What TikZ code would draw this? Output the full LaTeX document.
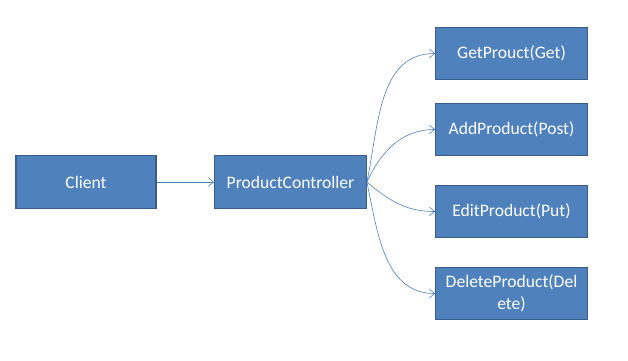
\documentclass[tikz,border=0pt]{standalone}
\usepackage{fontspec}
\setmainfont{Carlito}
\usetikzlibrary{arrows.meta}
\definecolor{boxfill}{HTML}{4F81BD}
\definecolor{boxline}{HTML}{385D8A}
\definecolor{linkline}{HTML}{4A7EBB}
\tikzset{
  box/.style  = {draw=boxline, fill=boxfill, line width=0.9pt, text=white, align=center,
                 font=\fontsize{15}{19}\selectfont, minimum height=1.58cm, inner sep=2pt},
  small/.style = {box, minimum width=4.2cm},
  wide/.style  = {box, minimum width=4.55cm},
  link/.style  = {-{Straight Barb[length=1.6mm, width=2.6mm]}, draw=linkline, line width=0.5pt}
}
\begin{document}
\begin{tikzpicture}[x=0.03cm, y=-0.03cm]
\useasboundingbox (0,0) rectangle (628,360);
\node[small] at ( 86   , 182   ) (client) {Client};
\node[wide]  at ( 290.5, 182   ) (ctrl)   {ProductController};
\node[wide]  at ( 511.5, 53.5  ) (get)    {GetProuct(Get)};
\node[wide]  at ( 511.5, 129.5 ) (add)    {AddProduct(Post)};
\node[wide]  at ( 511.5, 211.5 ) (edit)   {EditProduct(Put)};
\node[wide]  at ( 511.5, 293.5 ) (del)    {DeleteProduct(Del\\ete)};

\draw[link] (client.east) -- (ctrl.west);
\draw[link] (ctrl.east) to[out=78, in=180] (get.west);
\draw[link] (ctrl.east) to[out=65, in=180] (add.west);
\draw[link] (ctrl.east) to[out=-40, in=180] (edit.west);
\draw[link] (ctrl.east) to[out=-78, in=180] (del.west);
\end{tikzpicture}
\end{document}
